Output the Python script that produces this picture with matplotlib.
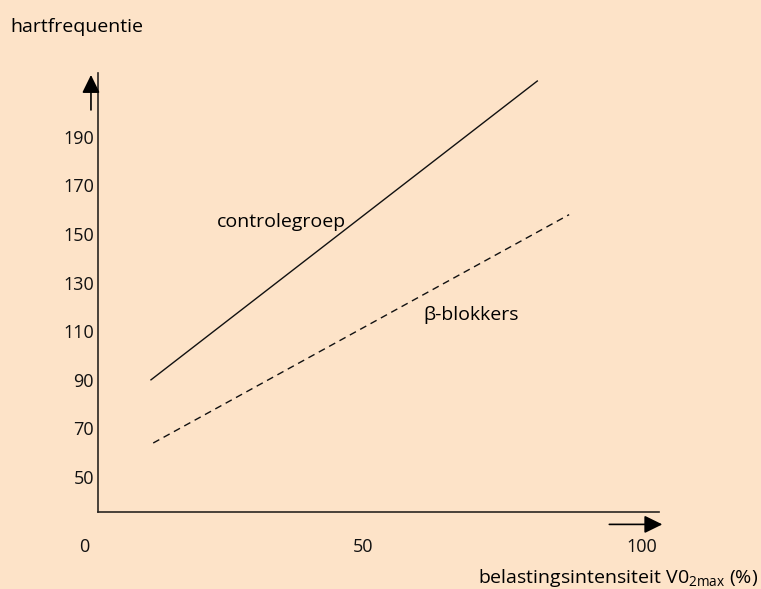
import matplotlib
matplotlib.use("Agg")
import matplotlib.pyplot as plt

# data
intensity_ctrl = [12.0, 81.2]    # % V02max
hr_ctrl = [90, 213]              # heart rate, controlegroep
intensity_beta = [12.4, 86.9]
hr_beta = [64, 158]              # heart rate, beta-blokkers

y_ticks = [50, 70, 90, 110, 130, 150, 170, 190]
x_ticks = [0, 50, 100]

bg = "#fde3c8"
plt.rcParams["font.family"] = ["Open Sans", "DejaVu Sans"]

W, H, dpi = 761, 589, 100
fig = plt.figure(figsize=(W / dpi, H / dpi), dpi=dpi, facecolor=bg)
# axes box in pixels: left 98, right 659, top 73, bottom 512
ax = fig.add_axes([98 / W, 1 - 512 / H, (659 - 98) / W, (512 - 73) / H])
ax.set_facecolor(bg)
ax.set_xlim(2.51, 103.0)
ax.set_ylim(35.6, 216.3)

for s in ("top", "right"):
    ax.spines[s].set_visible(False)
for s in ("left", "bottom"):
    ax.spines[s].set_color("#2a2622")
    ax.spines[s].set_linewidth(1.2)

ax.set_xticks([])
ax.set_yticks(y_ticks)
ax.set_yticklabels([str(v) for v in y_ticks])
ax.tick_params(axis="y", length=0, pad=3, labelsize=13, labelcolor="#111111")

# x labels sit below the axis, "0" is left of the y axis
for v in x_ticks:
    ax.text(v, 21.0, str(v), ha="center", va="center", fontsize=13,
            color="#111111", clip_on=False)

ax.plot(intensity_ctrl, hr_ctrl, color="#111111", lw=1.0)
ax.plot(intensity_beta, hr_beta, color="#111111", lw=1.0, ls=(0, (5, 3.5)))

ax.text(23.8, 155, "controlegroep", fontsize=14, va="center", ha="left")
ax.text(60.8, 116.7, "\u03b2-blokkers", fontsize=14, va="center", ha="left")

# direction arrows
arrow = dict(arrowstyle="-|>,head_length=0.55,head_width=0.27", color="black",
             lw=1.2, shrinkA=0, shrinkB=0, mutation_scale=20)
ax.annotate("", xy=(1.25, 215.5), xytext=(1.25, 201.1), arrowprops=arrow,
            annotation_clip=False)
ax.annotate("", xy=(103.6, 30.5), xytext=(94.1, 30.5), arrowprops=arrow,
            annotation_clip=False)

fig.text(10 / W, 1 - 27 / H, "hartfrequentie", fontsize=14, va="center", ha="left")
fig.text(758 / W, 1 - 578 / H,
         r"belastingsintensiteit V0$_{\mathregular{2max}}$ (%)",
         fontsize=14, va="center", ha="right")

fig.savefig("out.png", dpi=dpi, facecolor=bg)
